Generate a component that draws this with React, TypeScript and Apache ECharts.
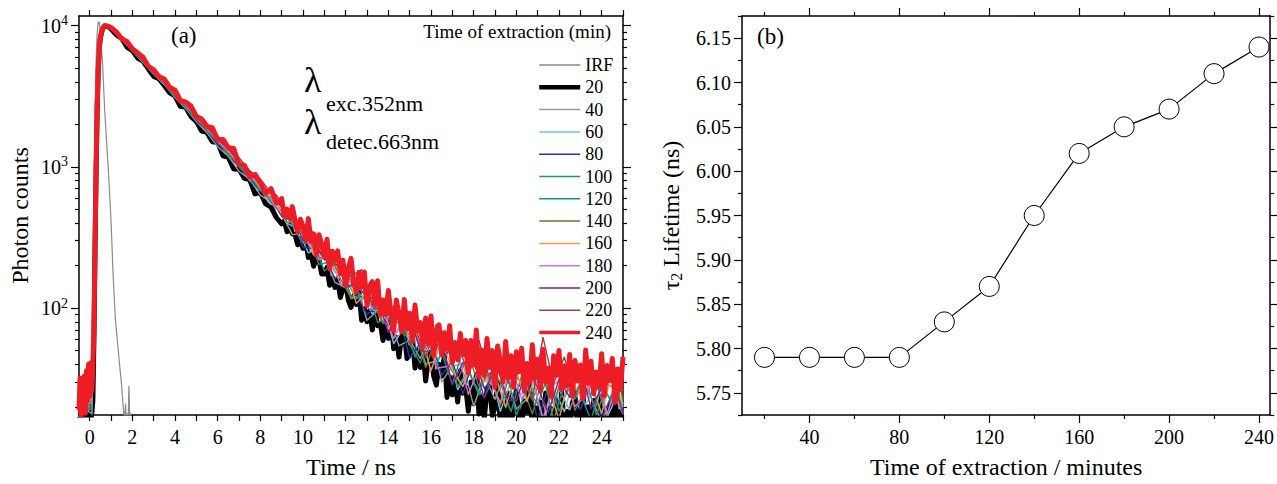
import React, { useEffect, useRef } from "react";
import * as echarts from "echarts";

const FONT = '"Liberation Serif", "Times New Roman", Times, serif';

// ---------- Panel (a): fluorescence decays (photon counts vs time, ns) ----------
const tFine = [-0.5, -0.45, -0.4, -0.35, -0.3, -0.25, -0.2, -0.15, -0.1, -0.05, 0, 0.05, 0.1,
  0.15, 0.2, 0.25, 0.3, 0.35, 0.4, 0.45, 0.5, 0.6, 0.7, 0.8, 0.9, 1,
  1.25, 1.5, 1.75, 2, 2.25, 2.5, 2.75, 3, 3.25, 3.5, 3.75, 4, 4.25, 4.5, 4.75, 5, 5.25, 5.5, 5.75, 6, 6.25, 6.5, 6.75,
  7, 7.25, 7.5, 7.75, 8, 8.25, 8.5, 8.75,
  9, 9.125, 9.25, 9.375, 9.5, 9.625, 9.75, 9.875, 10, 10.125, 10.25, 10.375, 10.5, 10.625, 10.75, 10.875,
  11, 11.125, 11.25, 11.375, 11.5, 11.625, 11.75, 11.875, 12, 12.125, 12.25, 12.375, 12.5, 12.625, 12.75, 12.875,
  13, 13.125, 13.25, 13.375, 13.5, 13.625, 13.75, 13.875, 14, 14.125, 14.25, 14.375, 14.5, 14.625, 14.75, 14.875,
  15, 15.125, 15.25, 15.375, 15.5, 15.625, 15.75, 15.875, 16, 16.125, 16.25, 16.375, 16.5, 16.625, 16.75, 16.875,
  17, 17.125, 17.25, 17.375, 17.5, 17.625, 17.75, 17.875, 18, 18.125, 18.25, 18.375, 18.5, 18.625, 18.75, 18.875,
  19, 19.125, 19.25, 19.375, 19.5, 19.625, 19.75, 19.875, 20, 20.125, 20.25, 20.375, 20.5, 20.625, 20.75, 20.875,
  21, 21.125, 21.25, 21.375, 21.5, 21.625, 21.75, 21.875, 22, 22.125, 22.25, 22.375, 22.5, 22.625, 22.75, 22.875,
  23, 23.125, 23.25, 23.375, 23.5, 23.625, 23.75, 23.875, 24, 24.125, 24.25, 24.375, 24.5, 24.625, 24.75, 24.875, 25];

const decay20 = [17, 15, 18, 16, 19, 15, 17, 16, 18, 15, 19, 16, 18,
  22, 60, 250, 900, 2500, 4800, 6800, 8200, 9500, 9950, 9900, 9750, 9500,
  8590, 8130, 7050, 6650, 5895, 5610, 4935, 4370, 4200, 3770, 3345, 3185, 2680, 2645, 2270, 2100, 1790, 1754, 1506, 1490,
  1195, 1170, 966, 962, 831, 812, 643, 657, 547, 519, 438,
  395, 415, 347, 391, 336, 332, 281, 312, 265, 300, 228, 241, 198, 227, 221, 174,
  174, 194, 145, 163, 140, 158, 119, 137, 150, 114, 101, 122, 106, 129, 82, 99,
  80, 96, 70, 97, 75, 78, 59, 79, 61, 84, 51.5, 62, 45, 64, 66, 44,
  48, 63, 37.6, 50, 38, 50, 30.5, 43, 49, 33, 28.5, 40, 33, 46, 23.3, 32.6,
  24.3, 33.3, 21.6, 36, 25, 27.7, 18.6, 30, 21, 33.7, 17.8, 23.7, 16.5, 26.5, 28, 17.3,
  19.8, 29.5, 15.2, 22.8, 16.7, 25, 13.6, 21.3, 26, 17.1, 14.8, 22, 18.4, 28.5, 13.7, 19.9,
  14.9, 21.6, 13.5, 25, 16.8, 19.5, 12.9, 22.4, 15.6, 25.6, 13.5, 18.6, 12.9, 21.4, 23.3, 14.4,
  17, 25, 13.2, 20, 14.8, 22.2, 12.3, 19.4, 23.8, 15.7, 13.5, 20.5, 17, 26, 12.8, 18.6, 14.2];

const decay240 = [19, 32, 17, 30, 21, 33, 18, 36, 22, 40, 24, 41, 26,
  40, 70, 260, 920, 2550, 4850, 6850, 8250, 9550, 9980, 9950, 9850, 9700,
  9040, 8040, 7720, 6850, 6420, 5970, 5160, 4870, 4350, 4180, 3660, 3490, 2950, 2875, 2695, 2275, 2180, 1930, 1895, 1555,
  1565, 1365, 1350, 1042, 1024, 850, 884, 770, 650, 700, 555,
  596, 445, 503, 433, 523, 420, 347, 426, 377, 301, 430, 297, 336, 239, 331, 283,
  231, 307, 190, 253, 217, 254, 176, 218, 146, 191, 225, 152, 130, 179, 141, 180,
  104, 143, 154, 106, 156, 90, 114, 90, 133, 91, 69, 114, 91, 68, 115, 71,
  92, 58, 105, 69, 79, 53, 85, 56, 88, 46, 66, 76, 47, 67, 51, 75,
  41, 57, 43, 66, 47, 59, 35, 59, 39.5, 70, 32.6, 50.5, 33.5, 61, 38, 50,
  27.5, 54, 41.5, 30, 58, 32, 46, 27.5, 49, 35.4, 52, 25.8, 40.5, 29.7, 55, 32,
  43.5, 26, 51, 30, 37.5, 23.8, 46, 33.5, 50, 26.5, 39, 28.2, 47, 23.8, 42.5, 30.5,
  39.5, 22.8, 50.5, 29.3, 42, 24.7, 35.2, 27.8, 47.5, 23.9, 39, 30.8, 44, 21.5, 37, 26.5, 45];

const tCoarseA = [-0.5, -0.2, 0.1, 0.2, 0.3, 0.4, 0.5, 0.6, 0.75, 1, 1.5, 2, 2.5, 3, 3.5, 4, 4.5, 5, 5.5, 6, 6.5, 7,
  7.5, 8, 8.5, 9, 9.5, 10, 10.5, 11, 11.5, 12, 12.5, 13, 13.5, 14, 14.5, 15, 15.5, 16, 16.5, 17, 17.5, 18, 18.5, 19,
  19.5, 20, 20.5, 21, 21.5, 22, 22.5, 23, 23.5, 24, 24.5, 25];
const tCoarseB = [-0.5, -0.2, 0.1, 0.2, 0.3, 0.4, 0.5, 0.6, 0.75, 1, 1.5, 2, 2.5, 3, 3.5, 4, 4.5, 5, 5.5, 6, 6.5, 7,
  7.5, 8, 8.5, 8.75, 9.25, 9.75, 10.25, 10.75, 11.25, 11.75, 12.25, 12.75, 13.25, 13.75, 14.25, 14.75, 15.25, 15.75,
  16.25, 16.75, 17.25, 17.75, 18.25, 18.75, 19.25, 19.75, 20.25, 20.75, 21.25, 21.75, 22.25, 22.75, 23.25, 23.75,
  24.25, 24.75, 25];

const decay40 = [17, 19, 18, 55, 880, 4700, 8100, 9450, 9900,
  9500, 7980, 6600, 5500, 4530, 3820, 3100, 2590, 2090, 1740, 1390, 1190, 930, 820, 630, 560,
  463, 331, 339, 237, 235, 152, 139, 146, 82, 96, 91, 54, 59.4, 44, 64, 30, 39, 40.3, 20.2, 33.3,
  22.6, 35.7, 19.3, 22.7, 30.5, 15.3, 26.5, 19, 30.8, 23.5, 15.6, 26, 17.7];
const decay60 = [21, 18, 20, 58, 890, 4750, 8150, 9480, 9920,
  9560, 8020, 6690, 5530, 4640, 3830, 3210, 2610, 2180, 1770, 1490, 1200, 1010, 800, 690, 540,
  559, 399, 363, 246, 265, 187, 195, 117, 124, 91, 107, 56, 74, 69, 40, 42.5, 56, 26.5, 35.4, 25.5,
  38.6, 18.6, 30.3, 24.4, 32.3, 15.7, 27.2, 18.5, 33.8, 20.6, 29.5, 16.8, 24.6, 19.9];
const decay80 = [19, 22, 19, 57, 885, 4720, 8120, 9460, 9910,
  9540, 8000, 6680, 5570, 4600, 3870, 3170, 2640, 2150, 1800, 1450, 1230, 990, 830, 670, 590,
  447, 415, 270, 264, 233, 162, 190, 125, 90, 104, 71.5, 91, 44, 57, 60, 33.5, 42, 24.6, 45, 27,
  33.8, 19.6, 26.1, 33.8, 16.1, 27.8, 21.4, 35.7, 19.1, 29.5, 16.7, 24.3, 27.5];
const decay100 = [20, 18, 21, 60, 895, 4760, 8160, 9490, 9930,
  9590, 8060, 6750, 5610, 4680, 3870, 3260, 2650, 2230, 1800, 1530, 1220, 1050, 830, 720, 560,
  503, 485, 356, 324, 204, 212, 194, 122, 116, 133, 78, 80, 78, 45, 64, 40, 57, 27.8, 36.5, 24.3,
  41.5, 29.5, 18.5, 33.3, 22.3, 34.4, 16.1, 28.7, 22.7, 32, 17.5, 29, 26.2, 17.9];
const decay120 = [18, 20, 19, 59, 890, 4740, 8140, 9470, 9920,
  9580, 8030, 6720, 5620, 4640, 3900, 3200, 2680, 2170, 1850, 1480, 1270, 1000, 870, 680, 610,
  525, 386, 288, 287, 183, 209, 162, 116, 140, 79, 85, 87, 55, 41, 62, 48, 29, 50, 29, 23.4,
  33.5, 38.8, 17.5, 26.9, 20.9, 33.8, 18.6, 28.3, 24.8, 16.1, 29.5, 20.9, 34.6];
const decay140 = [20, 19, 22, 61, 900, 4780, 8170, 9500, 9940,
  9600, 8080, 6760, 5650, 4700, 3950, 3250, 2700, 2230, 1830, 1540, 1240, 1060, 840, 730, 570,
  554, 407, 398, 310, 222, 243, 162, 118, 142, 109, 78, 104, 64, 69, 38, 62.5, 41, 31, 47.5, 27.7,
  34.8, 20.4, 36.3, 29.3, 17.8, 32.5, 20.8, 38, 18.9, 26.2, 29.4, 17.4, 33.5, 22.2];
const decay160 = [22, 20, 23, 60, 900, 4790, 8180, 9500, 9940,
  9620, 8100, 6800, 5680, 4730, 3960, 3290, 2740, 2260, 1880, 1540, 1300, 1050, 900, 710, 630,
  468, 423, 395, 242, 232, 179, 190, 108, 129, 102, 71, 98, 60, 67, 36, 59.6, 36.5, 27.8, 50.6, 30,
  33.9, 19.9, 35.7, 21.8, 38.4, 28.1, 16.3, 33.4, 23.3, 29.8, 17.9, 35.5, 20.9];
const decay180 = [21, 23, 21, 61, 905, 4800, 8190, 9510, 9945,
  9630, 8110, 6820, 5700, 4760, 3980, 3320, 2730, 2300, 1860, 1580, 1280, 1090, 870, 750, 590,
  500, 474, 414, 290, 221, 230, 148, 156, 155, 97, 96, 61, 87, 58, 74, 37.5, 38.6, 50.5, 24.5, 37.5,
  31, 21.4, 40, 22.7, 32.2, 16.6, 28.4, 33.4, 20.1, 24, 35.7, 17.8, 28.8, 26.1];
const decay200 = [24, 21, 24, 62, 905, 4800, 8200, 9510, 9950,
  9650, 8130, 6840, 5730, 4780, 4000, 3330, 2790, 2290, 1920, 1570, 1340, 1080, 930, 740, 650,
  520, 459, 301, 303, 220, 243, 140, 149, 118, 119, 67, 89, 87, 50, 49, 59, 28.6, 41.3, 42.4, 23,
  43.6, 24.5, 21.9, 37.3, 27.4, 18.2, 31.2, 23.4, 39.6, 19.4, 27.1, 31.5, 17.9];
const decay220 = [27, 29, 30, 62, 900, 4800, 8200, 9500, 9950,
  9680, 8180, 6880, 5770, 4830, 4030, 3380, 2790, 2370, 1940, 1660, 1350, 1160, 940, 820, 650,
  634, 469, 365, 385, 282, 200, 205, 167, 187, 103, 116, 79, 104, 72.7, 45, 77, 47.5, 58.5, 32.7, 59,
  31.2, 38.3, 27.7, 39.6, 22.6, 62, 29.3, 45, 23.9, 35.4, 26.3, 40.6, 21.7, 37];

const tIRF = [-0.5, 0, 0.1, 0.15, 0.2, 0.25, 0.3, 0.35, 0.4, 0.45, 0.5, 0.6, 0.7, 0.8, 0.9, 1.0, 1.1, 1.2, 1.3, 1.4, 1.5,
  1.58, 1.63, 1.68, 1.72, 1.76, 1.8, 1.84, 1.88, 1.93, 2.0, 2.5, 25];
const irf = [6, 8, 14, 60, 400, 2000, 5500, 8800, 10500, 10600, 9000, 5600, 2600, 1450, 820, 420, 170, 85, 58, 40, 28,
  19, 16.5, 21, 15, 17.8, 15, 28, 16, 18, 12, 8, 5];

const nsTicks = [0, 1, 2, 3, 4, 5, 6, 7, 8, 9, 10, 11, 12, 13, 14, 15, 16, 17, 18, 19, 20, 21, 22, 23, 24, 25];
const nsLabels = [0, 2, 4, 6, 8, 10, 12, 14, 16, 18, 20, 22, 24];
const logMajor = [100, 1000, 10000];
const logMinor = [20, 30, 40, 50, 60, 70, 80, 90, 200, 300, 400, 500, 600, 700, 800, 900,
  2000, 3000, 4000, 5000, 6000, 7000, 8000, 9000];

// ---------- Panel (b): tau2 lifetime vs extraction time ----------
const extractionMin = [20, 40, 60, 80, 100, 120, 140, 160, 180, 200, 220, 240];
const tau2 = [5.79, 5.79, 5.79, 5.79, 5.83, 5.87, 5.95, 6.02, 6.05, 6.07, 6.11, 6.14];
const minLabels = [40, 80, 120, 160, 200, 240];
const minMinor = [20, 60, 100, 140, 180, 220];
const tauLabels = [5.75, 5.8, 5.85, 5.9, 5.95, 6.0, 6.05, 6.1, 6.15];
const tauMinor = [5.725, 5.775, 5.825, 5.875, 5.925, 5.975, 6.025, 6.075, 6.125, 6.175];

const curves = [
  { name: "20", t: tFine, v: decay20, color: "#000000", width: 5, legendWidth: 4.5 },
  { name: "40", t: tCoarseA, v: decay40, color: "#9a9a9a", width: 1.4, legendWidth: 1.5 },
  { name: "60", t: tCoarseB, v: decay60, color: "#6cc9e6", width: 1.4, legendWidth: 1.5 },
  { name: "80", t: tCoarseA, v: decay80, color: "#2536a6", width: 1.4, legendWidth: 1.5 },
  { name: "100", t: tCoarseB, v: decay100, color: "#239a5c", width: 1.4, legendWidth: 1.5 },
  { name: "120", t: tCoarseA, v: decay120, color: "#138f8f", width: 1.4, legendWidth: 1.5 },
  { name: "140", t: tCoarseB, v: decay140, color: "#75752a", width: 1.4, legendWidth: 1.5 },
  { name: "160", t: tCoarseA, v: decay160, color: "#f59a3c", width: 1.4, legendWidth: 1.5 },
  { name: "180", t: tCoarseB, v: decay180, color: "#dc70cf", width: 1.4, legendWidth: 1.5 },
  { name: "200", t: tCoarseA, v: decay200, color: "#861a98", width: 1.4, legendWidth: 1.5 },
  { name: "220", t: tCoarseB, v: decay220, color: "#9a4040", width: 1.4, legendWidth: 1.5 },
  { name: "IRF", t: tIRF, v: irf, color: "#8a8a8a", width: 1.2, legendWidth: 1.5 },
  { name: "240", t: tFine, v: decay240, color: "#ee1c25", width: 5, legendWidth: 3.5 },
];
const legendOrder = ["IRF", "20", "40", "60", "80", "100", "120", "140", "160", "180", "200", "220", "240"];

const lineSt = { color: "#000", width: 1.5 };
const tickSt = { color: "#000", width: 1.2 };
const lblSt = { color: "#000", fontSize: 20, fontFamily: FONT };
const nameSt = { color: "#000", fontSize: 24, fontFamily: FONT };

function xAxisDef(grid: number, pos: string, min: number, max: number, ticks: number[], len: number,
  labels: number[] | null, line: boolean, extra: any = {}) {
  return {
    gridIndex: grid, type: "value", position: pos, min, max,
    axisLine: { show: line, onZero: false, lineStyle: lineSt },
    axisTick: { show: true, inside: false, length: len, customValues: ticks, lineStyle: tickSt },
    axisLabel: labels ? { show: true, customValues: labels, margin: 12, ...lblSt } : { show: false },
    splitLine: { show: false },
    ...extra,
  };
}
function yAxisDef(grid: number, pos: string, type: string, min: number, max: number, ticks: number[], len: number,
  labels: number[] | null, line: boolean, extra: any = {}) {
  const ax: any = {
    gridIndex: grid, type, position: pos, min, max,
    axisLine: { show: line, onZero: false, lineStyle: lineSt },
    axisTick: { show: true, inside: false, length: len, customValues: ticks, lineStyle: tickSt },
    axisLabel: labels ? { show: true, customValues: labels, margin: 11, ...lblSt } : { show: false },
    splitLine: { show: false },
    ...extra,
  };
  if (type === "log") ax.logBase = 10;
  return ax;
}

export default function App() {
  const ref = useRef<HTMLDivElement>(null);
  useEffect(() => {
    const chart = echarts.init(ref.current!, null, { renderer: "svg" });
    const logLabel = {
      formatter: (v: number) => "10{sup|" + Math.round(Math.log10(v)) + "}",
      rich: { sup: { fontSize: 14, fontFamily: FONT, color: "#000", padding: [0, 0, 10, 0] } },
    };
    const option: any = {
      animation: false,
      backgroundColor: "#fff",
      grid: [
        { left: 79, top: 16, width: 544, height: 403 },
        { left: 742, top: 16, width: 533, height: 402 },
      ],
      xAxis: [
        xAxisDef(0, "bottom", -0.5, 25, nsTicks, 6, nsLabels, true, {
          name: "Time / ns", nameLocation: "middle", nameGap: 40, nameTextStyle: nameSt,
        }),
        xAxisDef(0, "top", -0.5, 25, nsTicks, 6, null, true),
        xAxisDef(1, "bottom", 10, 245, minLabels, 8, minLabels, true, {
          name: "Time of extraction / minutes", nameLocation: "middle", nameGap: 40, nameTextStyle: nameSt,
        }),
        xAxisDef(1, "bottom", 10, 245, minMinor, 4, null, false),
        xAxisDef(1, "top", 10, 245, minLabels, 8, null, true),
        xAxisDef(1, "top", 10, 245, minMinor, 4, null, false),
      ],
      yAxis: [
        (() => {
          const a = yAxisDef(0, "left", "log", 17.5, 11700, logMajor, 8, logMajor, true, {
            name: "Photon counts", nameLocation: "middle", nameGap: 47, nameTextStyle: nameSt,
          });
          a.axisLabel = { ...a.axisLabel, ...logLabel };
          return a;
        })(),
        yAxisDef(0, "left", "log", 17.5, 11700, logMinor, 4, null, false),
        yAxisDef(0, "right", "log", 17.5, 11700, logMajor, 8, null, true),
        yAxisDef(0, "right", "log", 17.5, 11700, logMinor, 4, null, false),
        (() => {
          const a = yAxisDef(1, "left", "value", 5.725, 6.175, tauLabels, 8, tauLabels, true, {
            name: "τ{sub|2} Lifetime (ns)", nameLocation: "middle", nameGap: 58,
            nameTextStyle: { ...nameSt, rich: { sub: { fontSize: 16, fontFamily: FONT, color: "#000", padding: [10, 0, 0, 0] } } },
          });
          a.axisLabel.formatter = (v: number) => v.toFixed(2);
          return a;
        })(),
        yAxisDef(1, "left", "value", 5.725, 6.175, tauMinor, 4, null, false),
        yAxisDef(1, "right", "value", 5.725, 6.175, tauLabels, 8, null, true),
        yAxisDef(1, "right", "value", 5.725, 6.175, tauMinor, 4, null, false),
      ],
      legend: {
        orient: "vertical", left: 532, top: 51, itemWidth: 41, itemHeight: 14, itemGap: 4.3,
        selectedMode: false,
        itemStyle: { opacity: 0 },
        textStyle: { fontSize: 18, fontFamily: FONT, color: "#000", lineHeight: 18 },
        data: legendOrder.map((n) => {
          const c = curves.find((k) => k.name === n)!;
          return { name: n, lineStyle: { width: c.legendWidth, color: c.color, opacity: 1 } };
        }),
      },
      series: [
        ...curves.map((c) => ({
          name: c.name, type: "line", xAxisIndex: 0, yAxisIndex: 0, symbol: "none", showSymbol: false,
          clip: true, silent: true,
          lineStyle: { color: c.color, width: c.width, join: "round" }, itemStyle: { color: c.color },
          data: c.t.map((t, i) => [t, c.v[i]]),
        })),
        {
          name: "tau2", type: "line", xAxisIndex: 2, yAxisIndex: 4, symbol: "circle", symbolSize: 20,
          lineStyle: { color: "#000", width: 1.2 },
          itemStyle: { color: "#fff", borderColor: "#000", borderWidth: 1 },
          data: extractionMin.map((m, i) => [m, tau2[i]]),
        },
      ],
      graphic: [
        { type: "text", left: 171, top: 24, style: { text: "(a)", font: `23px ${FONT}`, fill: "#000" } },
        { type: "text", left: 757, top: 25, style: { text: "(b)", font: `23px ${FONT}`, fill: "#000" } },
        { type: "text", right: 1277 - 611, top: 22, style: { text: "Time of extraction (min)", font: `19px ${FONT}`, fill: "#000" } },
        { type: "text", left: 304, top: 62, style: { text: "λ", font: `36px ${FONT}`, fill: "#000" } },
        { type: "text", left: 326, top: 92, style: { text: "exc.352nm", font: `22px ${FONT}`, fill: "#000" } },
        { type: "text", left: 304, top: 104, style: { text: "λ", font: `36px ${FONT}`, fill: "#000" } },
        { type: "text", left: 326, top: 130, style: { text: "detec.663nm", font: `22px ${FONT}`, fill: "#000" } },
      ],
    };
    chart.setOption(option);
    return () => chart.dispose();
  }, []);
  return <div ref={ref} style={{ position: "absolute", left: 0, top: 0, width: 1277, height: 484, background: "#fff" }} />;
}
